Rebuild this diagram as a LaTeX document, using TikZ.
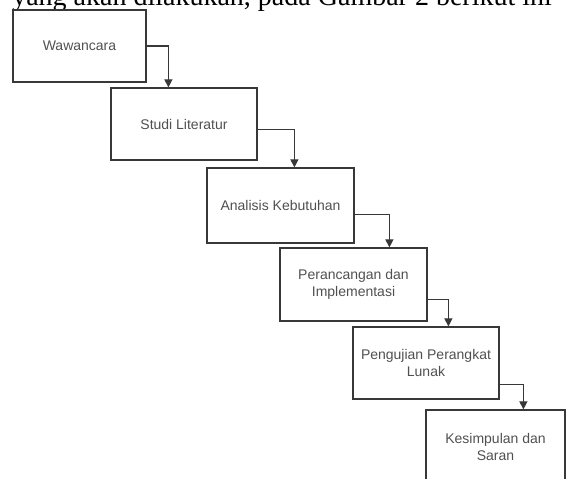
\documentclass[tikz,border=0pt]{standalone}
\usepackage{fontspec}
\setmainfont{Liberation Serif}
\newfontfamily\boxfont{Liberation Sans}
\usetikzlibrary{arrows.meta}
\definecolor{linegray}{HTML}{383838}
\definecolor{textgray}{HTML}{505050}
\tikzset{
  stepbox/.style={draw=linegray, line width=0.9pt, rectangle, inner sep=0pt,
    align=center, font=\boxfont\fontsize{10.5}{13}\selectfont, text=textgray},
  flow/.style={draw=linegray, line width=0.85pt, -{Triangle[length=6pt,width=6pt]}}
}
\begin{document}
\begin{tikzpicture}[x=0.75pt,y=-0.75pt]
\useasboundingbox (0,0) rectangle (569,479);
\clip (0,0) rectangle (569,479);
\node[anchor=base west, font=\fontsize{21}{24}\selectfont, inner sep=0pt] (head) at (12,5) {yang akan dilakukan, pada Gambar 2 berikut ini};
\node[stepbox, minimum width=99.75pt, minimum height=54pt] (b1) at (79.5,46) {Wawancara};
\node[stepbox, minimum width=109.5pt, minimum height=54pt] (b2) at (184,124) {Studi Literatur};
\node[stepbox, minimum width=110.25pt, minimum height=56.25pt] (b3) at (280.5,205.5) {Analisis Kebutuhan};
\node[stepbox, minimum width=110.25pt, minimum height=54.75pt] (b4) at (353.5,284.5) {Perancangan dan\\Implementasi};
\node[stepbox, minimum width=109.5pt, minimum height=54pt] (b5) at (426,363) {Pengujian Perangkat\\Lunak};
\node[stepbox, minimum width=104.25pt, minimum height=55.5pt] (b6) at (495.5,447) {Kesimpulan dan\\Saran};
\draw[flow] (b1.east) -| ([xshift=43.5pt]b2.north west);
\draw[flow] ([yshift=-31.5pt]b2.north east) -| ([xshift=66pt]b3.north west);
\draw[flow] ([yshift=-35.25pt]b3.north east) -| ([xshift=82.5pt]b4.north west);
\draw[flow] ([yshift=-39pt]b4.north east) -| ([xshift=72pt]b5.north west);
\draw[flow] ([yshift=-43.5pt]b5.north east) -| ([xshift=73.5pt]b6.north west);
\end{tikzpicture}
\end{document}
